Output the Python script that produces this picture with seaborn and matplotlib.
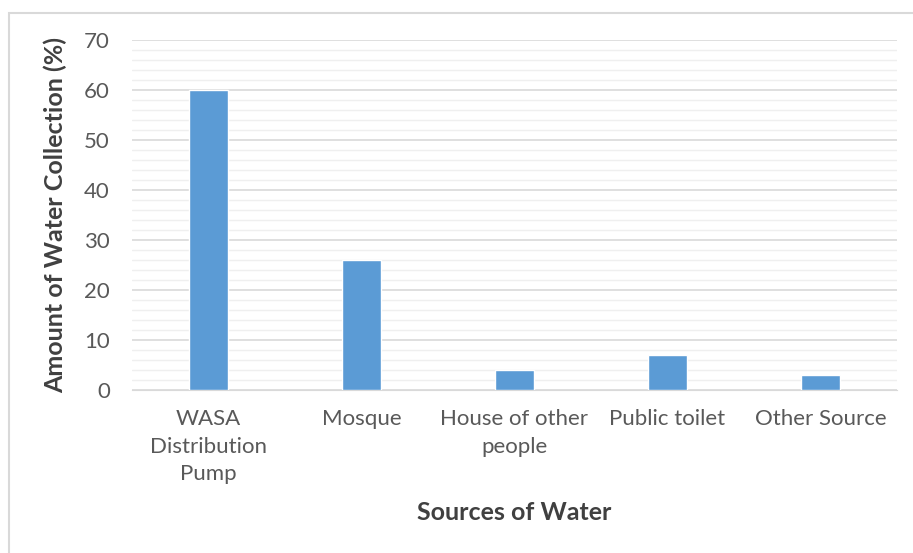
import pandas as pd
import numpy as np
import seaborn as sns
import matplotlib.pyplot as plt
from matplotlib.patches import Rectangle
from matplotlib.ticker import MultipleLocator

# data
sources = ["WASA\nDistribution\nPump", "Mosque", "House of other\npeople",
           "Public toilet", "Other Source"]
amount = [60, 26, 4, 7, 3]

df = pd.DataFrame({"source": sources, "amount": amount})

sns.set_style("white")
plt.rcParams['font.family'] = ['Lato', 'DejaVu Sans']

fig = plt.figure(figsize=(9.13, 5.53), dpi=100)
ax = fig.add_axes([132 / 913, 163 / 553, 765 / 913, 350 / 553])

# light frame round the chart area, like the Excel chart border
fig.patches.append(Rectangle((9 / 913, -0.1), 1.1, (553 - 13) / 553 + 0.1,
                             transform=fig.transFigure, fill=False,
                             edgecolor="#d9d9d9", linewidth=1.5))

sns.barplot(data=df, x="source", y="amount", color="#5b9bd5",
            saturation=1, width=0.25, ax=ax, zorder=3)

ax.set_ylim(0, 70)
ax.yaxis.set_major_locator(MultipleLocator(10))
ax.yaxis.set_minor_locator(MultipleLocator(2))
ax.grid(which="major", axis="y", color="#d9d9d9", linewidth=1.2, zorder=0)
ax.grid(which="minor", axis="y", color="#efefef", linewidth=1.0, zorder=0)
ax.set_axisbelow(True)

for s in ["top", "right", "left"]:
    ax.spines[s].set_visible(False)
ax.spines["bottom"].set_color("#d9d9d9")
ax.tick_params(axis="both", which="both", length=0, colors="#595959",
               labelsize=16)
ax.tick_params(axis="y", pad=16)
ax.tick_params(axis="x", pad=14)
for lbl in ax.get_xticklabels():
    lbl.set_linespacing(1.45)

ax.set_xlabel("Sources of Water", fontsize=18, fontweight="bold",
              color="#404040", labelpad=12)
ax.set_ylabel("Amount of Water Collection (%)", fontsize=18,
              fontweight="bold", color="#404040", labelpad=12)

fig.savefig("out.png", dpi=100)
